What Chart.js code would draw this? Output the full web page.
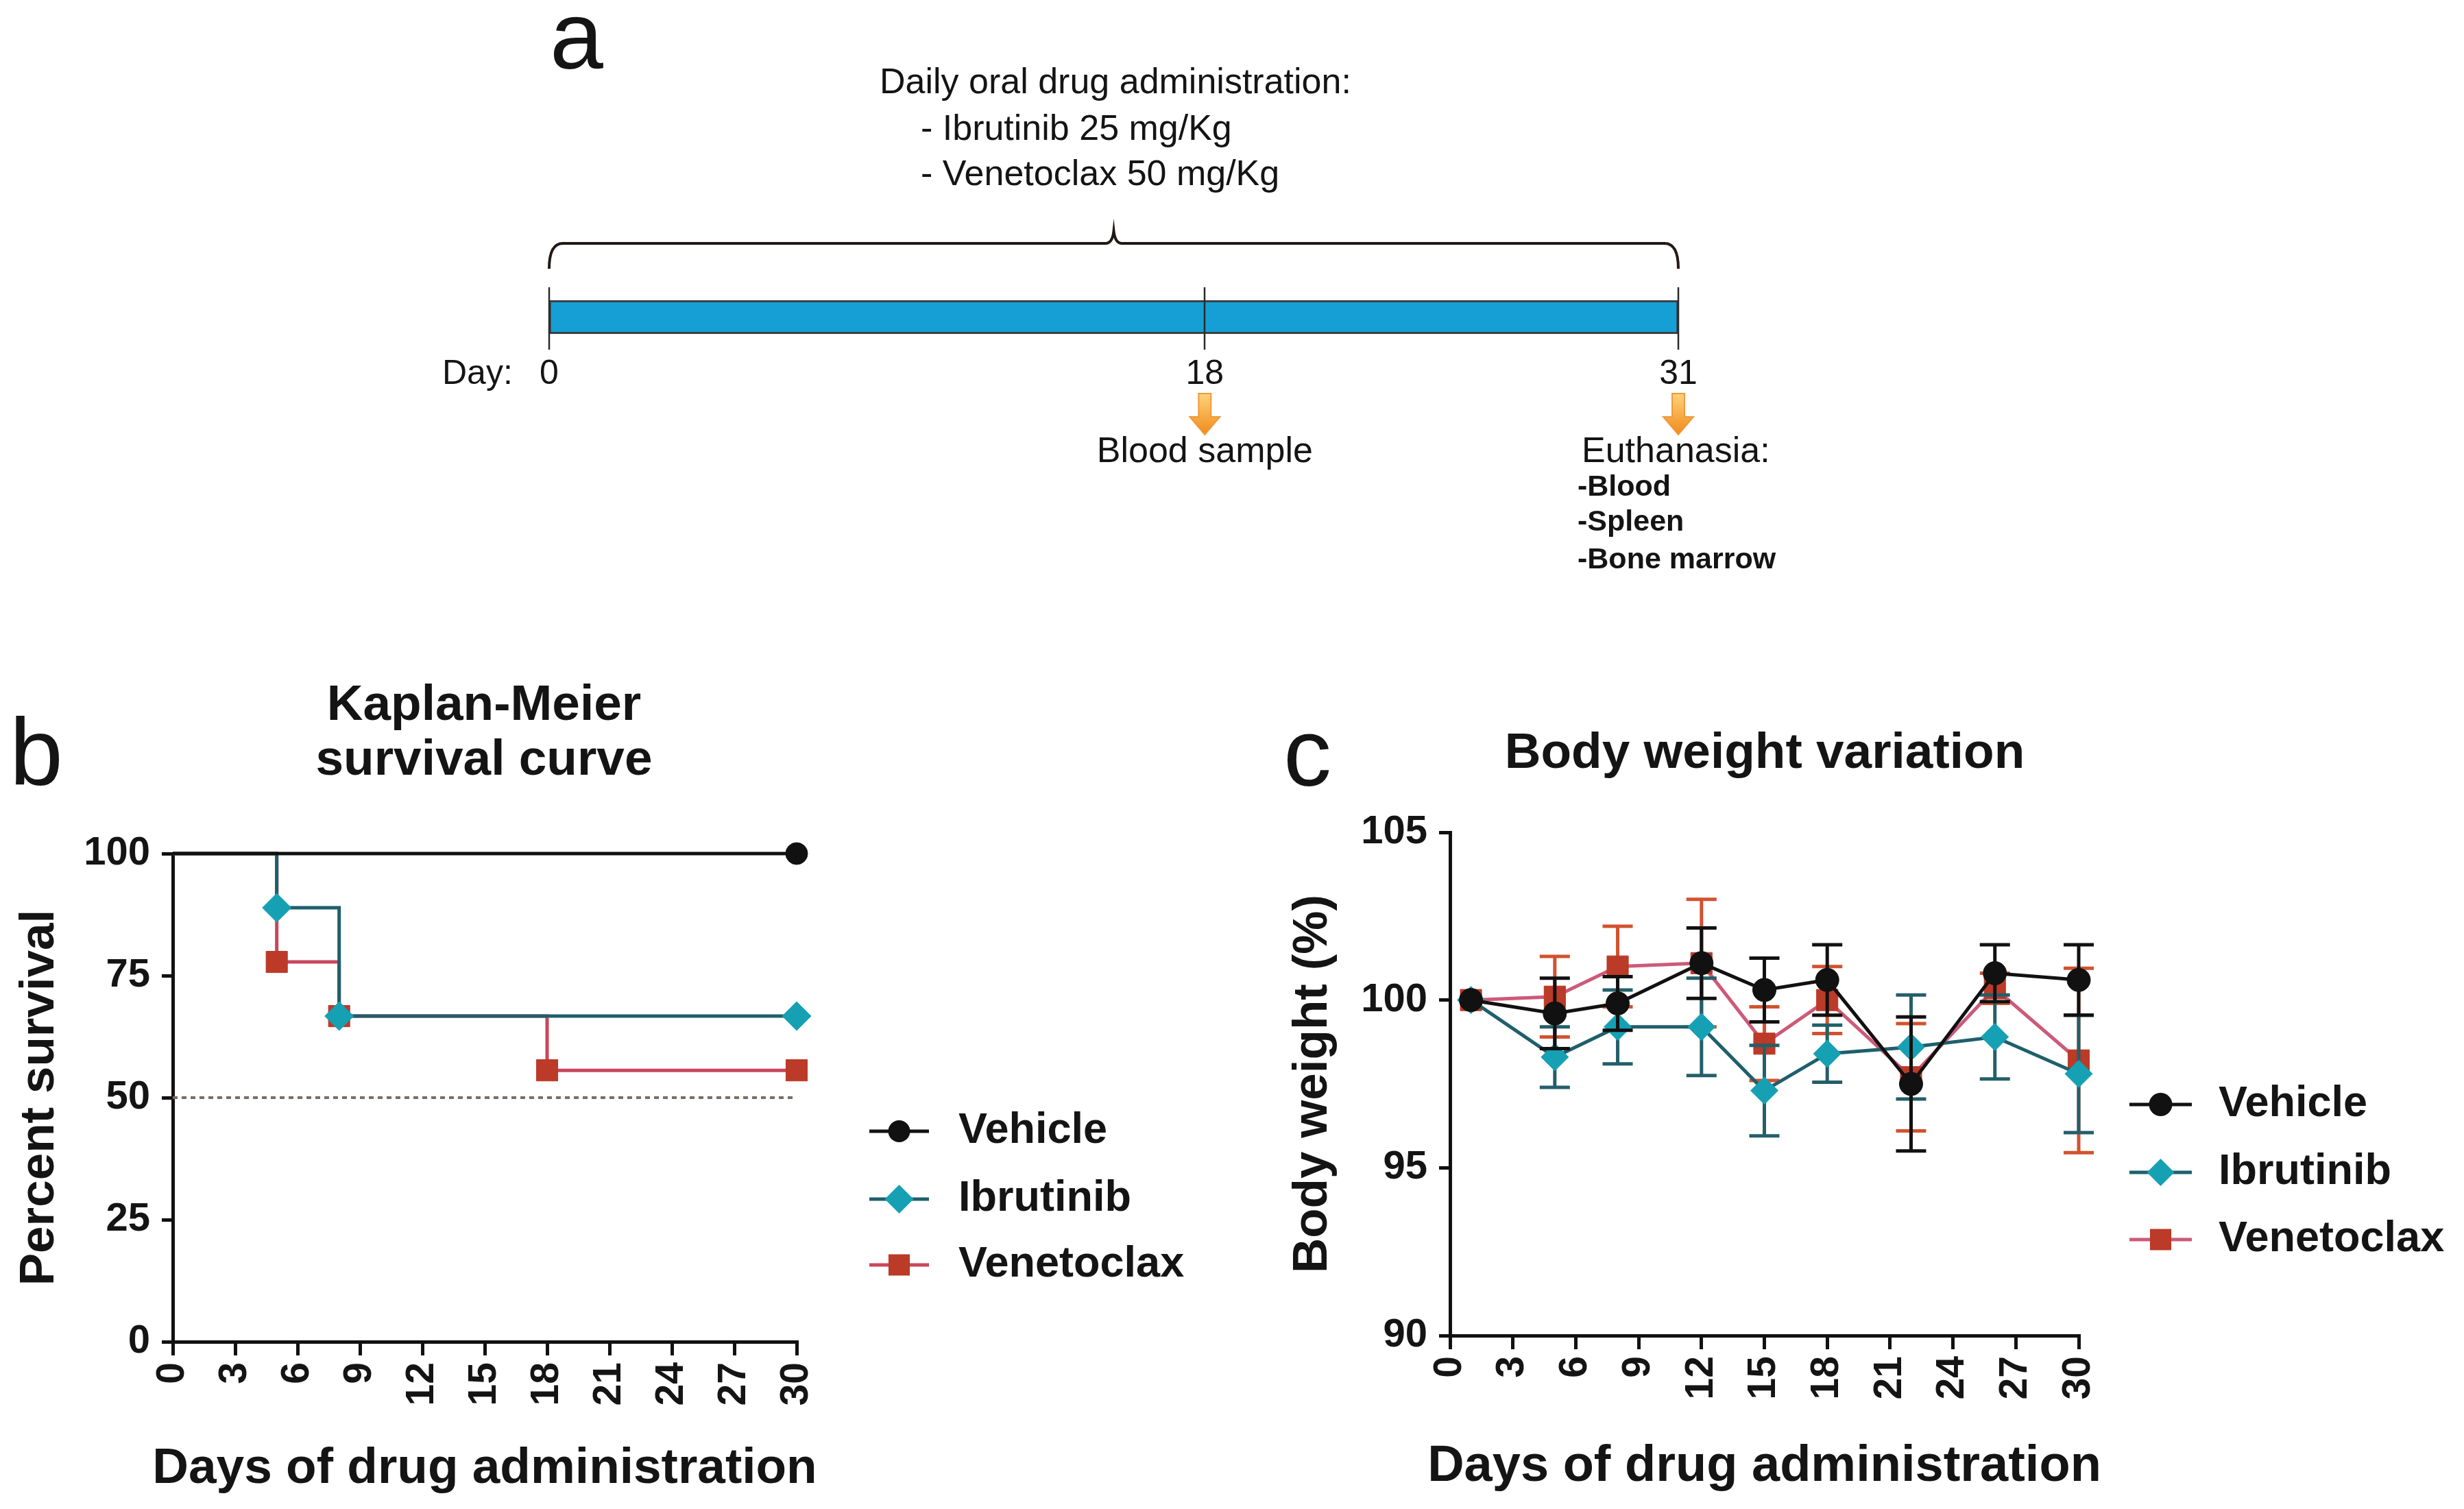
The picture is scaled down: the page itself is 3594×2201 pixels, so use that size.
<!DOCTYPE html>
<html>
<head>
<meta charset="utf-8">
<script src="https://cdn.jsdelivr.net/npm/chart.js@4.4.0/dist/chart.umd.min.js"></script>
<style>
html,body{margin:0;padding:0;background:#fff;}
#wrap{position:relative;width:3594px;height:2201px;overflow:hidden;background:#fff;}
canvas{position:absolute;}
</style>
</head>
<body>
<div id="wrap">
<canvas id="cA" width="2100" height="900" style="left:600px;top:0px;width:2100px;height:900px"></canvas>
<canvas id="cB" width="1800" height="1221" style="left:0px;top:980px;width:1800px;height:1221px"></canvas>
<canvas id="cC" width="1744" height="1221" style="left:1850px;top:980px;width:1744px;height:1221px"></canvas>
</div>
<script>
// ================= DATA =================
// Panel a: treatment timeline
const timelineRange = [0, 31];
const timelineDays = [0, 18, 31];
const timelineDayLabels = ['0', '18', '31'];
const arrowDays = [18, 31];
const dosingText = ['Daily oral drug administration:', '- Ibrutinib 25 mg/Kg', '- Venetoclax 50 mg/Kg'];
const sampleText = ['Blood sample'];
const euthanasiaText = ['Euthanasia:', '-Blood', '-Spleen', '-Bone marrow'];

// Panel b: Kaplan-Meier survival
const seriesNames = ['Vehicle', 'Ibrutinib', 'Venetoclax'];
const kmVehicleDays = [0, 30];
const kmVehicleSurv = [100, 100];
const kmIbrutinibDays = [0, 5, 8, 30];
const kmIbrutinibSurv = [100, 88.9, 66.7, 66.7];
const kmVenetoclaxDays = [0, 5, 8, 18, 30];
const kmVenetoclaxSurv = [100, 77.8, 66.7, 55.6, 55.6];
const kmMedianDays = [0, 30];
const kmMedianLevel = [50, 50];

// Panel c: body weight variation (mean and SEM, %)
const bwDays = [1, 5, 8, 12, 15, 18, 22, 26, 30];
const bwVehicle = [100, 99.6, 99.9, 101.1, 100.3, 100.6, 97.5, 100.8, 100.6];
const bwVehicleSEM = [0, 1.05, 0.8, 1.05, 0.95, 1.05, 2.0, 0.85, 1.05];
const bwIbrutinib = [100, 98.3, 99.2, 99.2, 97.3, 98.4, 98.6, 98.9, 97.8];
const bwIbrutinibSEM = [0, 0.9, 1.1, 1.45, 1.35, 0.85, 1.55, 1.25, 1.75];
const bwVenetoclax = [100, 100.1, 101.0, 101.1, 98.7, 100.0, 97.7, 100.35, 98.2];
const bwVenetoclaxSEM = [0, 1.2, 1.2, 1.9, 1.1, 1.0, 1.6, 0.45, 2.75];

const xAxisTitle = 'Days of drug administration';

// ================= STYLE =================
const FONT = "'Liberation Sans', Arial, Helvetica, sans-serif";
const INK = '#141414';
const C = {
  vehLine: '#111111', vehFill: '#111111', vehErr: '#111111',
  ibrLine: '#1f5f6b', ibrFill: '#16a0b4', ibrErr: '#245f69',
  venLineB: '#c8465c', venLineC: '#cc5a78', venFill: '#bb3a28', venErr: '#d2522f',
  median: '#7d6b63', bar: '#159fd4'
};
Chart.defaults.font.family = FONT;
Chart.defaults.color = INK;

const pts = (xs, ys) => xs.map((x, i) => ({x: x, y: ys[i]}));

function drawMarker(ctx, style, x, y, r, fill) {
  ctx.save();
  ctx.fillStyle = fill;
  ctx.beginPath();
  if (style === 'circle') {
    ctx.arc(x, y, r, 0, Math.PI * 2);
  } else if (style === 'rectRot') {
    ctx.moveTo(x - r, y); ctx.lineTo(x, y - r); ctx.lineTo(x + r, y); ctx.lineTo(x, y + r); ctx.closePath();
  } else {
    const s = r * Math.SQRT1_2;
    ctx.rect(x - s, y - s, 2 * s, 2 * s);
  }
  ctx.fill();
  ctx.restore();
}

function text(ctx, str, x, y, font, align, baseline) {
  ctx.save();
  ctx.font = font;
  ctx.fillStyle = INK;
  ctx.textAlign = align || 'left';
  ctx.textBaseline = baseline || 'alphabetic';
  ctx.fillText(str, x, y);
  ctx.restore();
}

// ================= PANEL A =================
const timelinePlugin = {
  id: 'timeline',
  afterDatasetsDraw(chart) {
    const ctx = chart.ctx, xs = chart.scales.x;
    ctx.save();
    ctx.strokeStyle = '#2a2a2a';
    ctx.lineWidth = 2.5;
    timelineDays.forEach(d => {
      const x = Math.round(xs.getPixelForValue(d));
      ctx.beginPath(); ctx.moveTo(x, 419); ctx.lineTo(x, 510); ctx.stroke();
    });
    ctx.restore();
  },
  afterDraw(chart) {
    const ctx = chart.ctx, xs = chart.scales.x;
    const px = d => xs.getPixelForValue(d);
    // panel letter
    text(ctx, 'a', 202, 100, '140px ' + FONT);
    // dosing text
    text(ctx, dosingText[0], 683, 136, '52px ' + FONT);
    text(ctx, dosingText[1], 743, 204, '52px ' + FONT);
    text(ctx, dosingText[2], 743, 270, '52px ' + FONT);
    // brace
    const x0 = px(timelineRange[0]), x1 = px(timelineRange[1]), xm = (x0 + x1) / 2;
    const yb = 355, ye = 392, yt = 337;
    ctx.save();
    ctx.strokeStyle = '#231815';
    ctx.lineWidth = 4;
    ctx.beginPath();
    ctx.moveTo(x0, ye);
    ctx.quadraticCurveTo(x0, yb, x0 + 20, yb);
    ctx.lineTo(xm - 12, yb);
    ctx.quadraticCurveTo(xm - 2, yb, xm, yt);
    ctx.quadraticCurveTo(xm + 2, yb, xm + 12, yb);
    ctx.lineTo(x1 - 20, yb);
    ctx.quadraticCurveTo(x1, yb, x1, ye);
    ctx.stroke();
    ctx.restore();
    // day labels
    text(ctx, 'Day:', 45, 560, '50px ' + FONT);
    timelineDays.forEach((d, i) => text(ctx, timelineDayLabels[i], px(d), 560, '50px ' + FONT, 'center'));
    // arrows
    arrowDays.forEach(d => {
      const cx = px(d);
      const g = ctx.createLinearGradient(0, 574, 0, 634);
      g.addColorStop(0, '#ffd27a');
      g.addColorStop(1, '#f08a1c');
      ctx.save();
      ctx.fillStyle = g;
      ctx.strokeStyle = '#ee9a3a';
      ctx.lineWidth = 2;
      ctx.beginPath();
      ctx.moveTo(cx - 9, 574); ctx.lineTo(cx + 9, 574); ctx.lineTo(cx + 9, 608);
      ctx.lineTo(cx + 22, 608); ctx.lineTo(cx, 634); ctx.lineTo(cx - 22, 608);
      ctx.lineTo(cx - 9, 608); ctx.closePath();
      ctx.fill(); ctx.stroke();
      ctx.restore();
    });
    text(ctx, sampleText[0], px(arrowDays[0]), 674, '52px ' + FONT, 'center');
    text(ctx, euthanasiaText[0], px(arrowDays[1]) - 141, 674, '52px ' + FONT);
    text(ctx, euthanasiaText[1], px(arrowDays[1]) - 147, 723, 'bold 43px ' + FONT);
    text(ctx, euthanasiaText[2], px(arrowDays[1]) - 147, 774, 'bold 43px ' + FONT);
    text(ctx, euthanasiaText[3], px(arrowDays[1]) - 147, 829, 'bold 43px ' + FONT);
  }
};

new Chart(document.getElementById('cA'), {
  type: 'bar',
  data: {
    labels: ['dosing'],
    datasets: [{
      data: [timelineRange],
      backgroundColor: C.bar,
      borderColor: '#3a3a3a',
      borderWidth: 3,
      borderSkipped: false,
      barThickness: 49
    }]
  },
  options: {
    indexAxis: 'y',
    responsive: false,
    animation: false,
    devicePixelRatio: 1,
    layout: {padding: {left: 201, right: 252, top: 400, bottom: 375}},
    scales: {
      x: {type: 'linear', min: timelineRange[0], max: timelineRange[1], display: false},
      y: {display: false}
    },
    plugins: {legend: {display: false}, tooltip: {enabled: false}}
  },
  plugins: [timelinePlugin]
});

// ================= SHARED AXIS / PLUGINS =================
function axisCommon(extra) {
  return Object.assign({
    grid: {display: true, drawOnChartArea: false, drawTicks: true, color: '#111', tickColor: '#111', lineWidth: 5, tickWidth: 5},
    border: {display: true, color: '#111', width: 5}
  }, extra);
}

const errorBarPlugin = {
  id: 'errbars',
  beforeDatasetDraw(chart, args) {
    const ds = chart.data.datasets[args.index];
    if (!ds.errors) return;
    const ctx = chart.ctx, xs = chart.scales.x, ys = chart.scales.y;
    ctx.save();
    ctx.strokeStyle = ds.errorColor;
    ctx.lineWidth = 5;
    ds.data.forEach((p, i) => {
      const e = ds.errors[i];
      if (!e) return;
      const x = xs.getPixelForValue(p.x);
      const y1 = ys.getPixelForValue(p.y + e), y2 = ys.getPixelForValue(p.y - e);
      ctx.beginPath();
      ctx.moveTo(x, y1); ctx.lineTo(x, y2);
      ctx.moveTo(x - 22, y1); ctx.lineTo(x + 22, y1);
      ctx.moveTo(x - 22, y2); ctx.lineTo(x + 22, y2);
      ctx.stroke();
    });
    ctx.restore();
  }
};

function decoPlugin(cfg) {
  return {
    id: 'deco',
    afterDraw(chart) {
      const ctx = chart.ctx, ca = chart.chartArea;
      text(ctx, cfg.letter, cfg.letterX, cfg.letterY, '140px ' + FONT);
      cfg.title.forEach((t, i) => text(ctx, t, cfg.titleX, cfg.titleY[i], 'bold 73px ' + FONT, 'center'));
      // x-axis title (drawn here so it is not squeezed to the plot width)
      text(ctx, xAxisTitle, (ca.left + ca.right) / 2, cfg.xTitleY, 'bold ' + cfg.xTitleSize + 'px ' + FONT, 'center');
      chart.data.datasets.forEach((ds, i) => {
        if (!ds.legend) return;
        const y = cfg.legendY[i];
        ctx.save();
        ctx.strokeStyle = ds.borderColor;
        ctx.lineWidth = 5;
        ctx.beginPath(); ctx.moveTo(cfg.symX0, y); ctx.lineTo(cfg.symX1, y); ctx.stroke();
        ctx.restore();
        const r = Array.isArray(ds.pointRadius) ? Math.max.apply(null, ds.pointRadius) : ds.pointRadius;
        drawMarker(ctx, ds.pointStyle, (cfg.symX0 + cfg.symX1) / 2, y, r, ds.pointBackgroundColor);
        text(ctx, ds.label, cfg.textX, y, 'bold 63px ' + FONT, 'left', 'middle');
      });
    }
  };
}

// ================= PANEL B =================
const radiiFor = (n, r) => Array.from({length: n}, (_, i) => (i === 0 ? 0 : r));
new Chart(document.getElementById('cB'), {
  type: 'line',
  data: {
    datasets: [
      {label: seriesNames[0], legend: true, data: pts(kmVehicleDays, kmVehicleSurv), stepped: true,
        borderColor: C.vehLine, borderWidth: 5, pointStyle: 'circle', pointRadius: radiiFor(kmVehicleDays.length, 16),
        pointBackgroundColor: C.vehFill, pointBorderColor: C.vehFill, pointBorderWidth: 1, clip: false},
      {label: seriesNames[1], legend: true, data: pts(kmIbrutinibDays, kmIbrutinibSurv), stepped: true,
        borderColor: C.ibrLine, borderWidth: 5, pointStyle: 'rectRot', pointRadius: radiiFor(kmIbrutinibDays.length, 21),
        pointBackgroundColor: C.ibrFill, pointBorderColor: C.ibrFill, pointBorderWidth: 1, clip: false},
      {label: seriesNames[2], legend: true, data: pts(kmVenetoclaxDays, kmVenetoclaxSurv), stepped: true,
        borderColor: C.venLineB, borderWidth: 5, pointStyle: 'rect', pointRadius: radiiFor(kmVenetoclaxDays.length, 22),
        pointBackgroundColor: C.venFill, pointBorderColor: C.venFill, pointBorderWidth: 1, clip: false},
      {label: 'median', legend: false, data: pts(kmMedianDays, kmMedianLevel),
        borderColor: C.median, borderWidth: 4, borderDash: [7, 6], pointRadius: 0, clip: false}
    ]
  },
  options: {
    responsive: false,
    animation: false,
    devicePixelRatio: 1,
    layout: {padding: {left: 0, top: 265, right: 638, bottom: 0}},
    scales: {
      x: axisCommon({
        type: 'linear', min: 0, max: 30,
        afterFit(s) { s.height = 244; },
        grid: {display: true, drawOnChartArea: false, drawTicks: true, color: '#111', tickColor: '#111', lineWidth: 5, tickWidth: 5, tickLength: 20},
        ticks: {stepSize: 3, autoSkip: false, minRotation: 90, maxRotation: 90, padding: 10, color: INK,
          font: {size: 57, weight: 'bold', family: FONT}},
        title: {display: false}
      }),
      y: axisCommon({
        min: 0, max: 100,
        afterFit(s) { s.width = 252; },
        grid: {display: true, drawOnChartArea: false, drawTicks: true, color: '#111', tickColor: '#111', lineWidth: 5, tickWidth: 5, tickLength: 16},
        ticks: {stepSize: 25, padding: 17, color: INK, font: {size: 58, weight: 'bold', family: FONT}},
        title: {display: true, text: 'Percent survival', color: INK,
          font: {size: 71, weight: 'bold', family: FONT, lineHeight: 1.2}, padding: {top: 16, bottom: 0}}
      })
    },
    plugins: {legend: {display: false}, tooltip: {enabled: false}}
  },
  plugins: [decoPlugin({
    letter: 'b', letterX: 14, letterY: 165,
    title: ['Kaplan-Meier', 'survival curve'], titleX: 706, titleY: [70, 150],
    xTitleY: 1183, xTitleSize: 73,
    legendY: [670, 769, 865], symX0: 1268, symX1: 1355, textX: 1398
  })]
});

// ================= PANEL C =================
new Chart(document.getElementById('cC'), {
  type: 'line',
  data: {
    datasets: [
      {label: seriesNames[0], legend: true, data: pts(bwDays, bwVehicle), errors: bwVehicleSEM, errorColor: C.vehErr,
        borderColor: C.vehLine, borderWidth: 5, pointStyle: 'circle', pointRadius: 17,
        pointBackgroundColor: C.vehFill, pointBorderColor: C.vehFill, pointBorderWidth: 1, clip: false},
      {label: seriesNames[1], legend: true, data: pts(bwDays, bwIbrutinib), errors: bwIbrutinibSEM, errorColor: C.ibrErr,
        borderColor: C.ibrLine, borderWidth: 5, pointStyle: 'rectRot', pointRadius: 20,
        pointBackgroundColor: C.ibrFill, pointBorderColor: C.ibrFill, pointBorderWidth: 1, clip: false},
      {label: seriesNames[2], legend: true, data: pts(bwDays, bwVenetoclax), errors: bwVenetoclaxSEM, errorColor: C.venErr,
        borderColor: C.venLineC, borderWidth: 5, pointStyle: 'rect', pointRadius: 22,
        pointBackgroundColor: C.venFill, pointBorderColor: C.venFill, pointBorderWidth: 1, clip: false}
    ]
  },
  options: {
    responsive: false,
    animation: false,
    devicePixelRatio: 1,
    layout: {padding: {left: 0, top: 234, right: 562, bottom: 0}},
    scales: {
      x: axisCommon({
        type: 'linear', min: 0, max: 30,
        afterFit(s) { s.height = 253; },
        grid: {display: true, drawOnChartArea: false, drawTicks: true, color: '#111', tickColor: '#111', lineWidth: 5, tickWidth: 5, tickLength: 20},
        ticks: {stepSize: 3, autoSkip: false, minRotation: 90, maxRotation: 90, padding: 10, color: INK,
          font: {size: 57, weight: 'bold', family: FONT}},
        title: {display: false}
      }),
      y: axisCommon({
        min: 90, max: 105,
        afterFit(s) { s.width = 265; },
        grid: {display: true, drawOnChartArea: false, drawTicks: true, color: '#111', tickColor: '#111', lineWidth: 5, tickWidth: 5, tickLength: 16},
        ticks: {stepSize: 5, padding: 17, color: INK, font: {size: 58, weight: 'bold', family: FONT}},
        title: {display: true, text: 'Body weight (%)', color: INK,
          font: {size: 71, weight: 'bold', family: FONT, lineHeight: 1.2}, padding: {top: 23, bottom: 0}}
      })
    },
    plugins: {legend: {display: false}, tooltip: {enabled: false}}
  },
  plugins: [errorBarPlugin, decoPlugin({
    letter: 'c', letterX: 22, letterY: 166,
    title: ['Body weight variation'], titleX: 724, titleY: [140],
    xTitleY: 1180, xTitleSize: 74,
    legendY: [631, 730, 828], symX0: 1256, symX1: 1347, textX: 1386
  })]
});
</script>
</body>
</html>
